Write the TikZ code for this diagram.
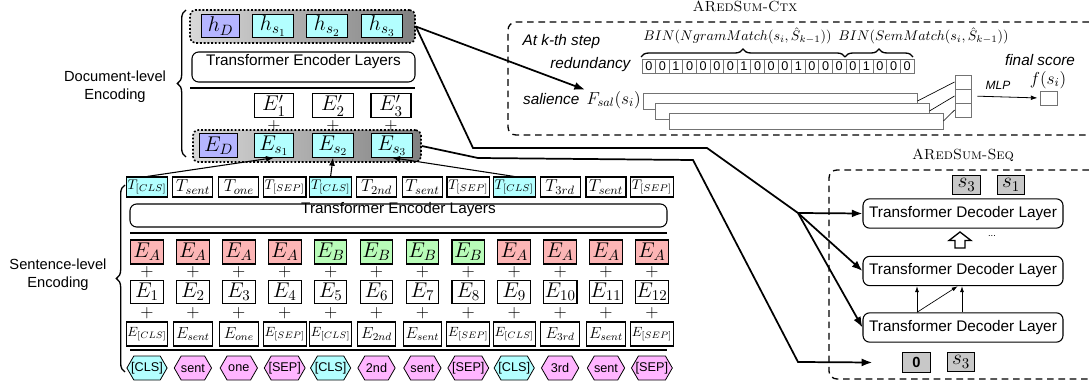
\RequirePackage{fix-cm}
\documentclass[tikz,border=0pt]{standalone}
\usepackage{fontspec}
\setsansfont{Liberation Sans}
\usetikzlibrary{arrows.meta,fit,shapes.symbols,decorations.pathreplacing}

\definecolor{clscyan}{RGB}{179,255,255}
\definecolor{docblue}{RGB}{181,181,255}
\definecolor{segred}{RGB}{252,181,181}
\definecolor{seggreen}{RGB}{184,252,184}
\definecolor{tokpink}{RGB}{255,181,255}
\definecolor{selgray}{RGB}{200,200,200}

\begin{document}
\begin{tikzpicture}[x=0.75pt,y=0.75pt,yscale=-1,xscale=1,
  box/.style={draw, line width=0.8pt, inner sep=1pt},
  dbox/.style={box, minimum width=29pt, minimum height=17.5pt, font=\fontsize{16}{17}\selectfont},
  grp/.style={draw, rounded corners=4pt, line width=1.2pt, dash pattern=on 1.4pt off 1.4pt, left color=black!15, right color=black!50, inner sep=0pt},
  enc/.style={draw, rounded corners=5pt, line width=0.8pt, inner sep=0pt, font=\sffamily\fontsize{11.5}{13}\selectfont},
  tkn/.style={box, minimum width=30pt, minimum height=15pt, font=\fontsize{13}{14}\selectfont},
  tknsm/.style={tkn, font=\fontsize{10.5}{11}\selectfont},
  segbox/.style={box, minimum width=24.5pt, minimum height=18pt, font=\fontsize{16}{17}\selectfont},
  posbox/.style={box, minimum width=24.5pt, minimum height=17pt, font=\fontsize{16}{17}\selectfont},
  embbox/.style={box, minimum width=29pt, minimum height=18pt, font=\fontsize{12}{13}\selectfont},
  embsm/.style={embbox, font=\fontsize{10}{11}\selectfont},
  hex/.style={draw, line width=0.6pt, signal, signal to=west and east, signal pointer angle=120, minimum width=28pt, minimum height=18pt, inner xsep=-2pt, inner ysep=0pt, font=\sffamily\fontsize{9.5}{10}\selectfont},
  plussign/.style={inner sep=0pt, font=\fontsize{13}{13}\selectfont},
  divider/.style={line width=0.9pt},
  levelbrace/.style={decorate, decoration={brace, amplitude=6.5pt}, line width=1pt},
  lbl/.style={align=center, font=\sffamily\fontsize{11}{13.5}\selectfont},
  itlbl/.style={inner sep=1pt, font=\sffamily\itshape\fontsize{11.5}{13}\selectfont},
  bitcell/.style={draw=black!55, line width=0.5pt, minimum width=10.2pt, minimum height=10.5pt, inner sep=0pt, font=\sffamily\fontsize{9.5}{10}\selectfont},
  salbar/.style={draw=black!55, fill=white, line width=0.7pt, inner sep=0pt},
  scorebox/.style={draw=black!55, fill=white, line width=0.7pt, minimum width=12pt, minimum height=10.5pt, inner sep=0pt},
  dashbox/.style={line width=1pt, dash pattern=on 5pt off 3.5pt, rounded corners=6pt},
  decbox/.style={draw, rounded corners=5pt, line width=0.8pt, minimum width=150pt, minimum height=22pt, font=\sffamily\fontsize{11.5}{13}\selectfont},
  selbox/.style={draw, fill=selgray, line width=0.8pt, minimum width=20.5pt, minimum height=14.5pt, inner sep=1pt, font=\fontsize{16}{17}\selectfont},
  conn/.style={line width=1.3pt, -{Latex[length=8pt,width=6pt]}},
  tarrow/.style={line width=0.8pt, -{Latex[length=6pt,width=4.5pt]}},
  thinarrow/.style={line width=0.5pt, -{Latex[length=4.5pt,width=3pt]}}
]
\useasboundingbox (0,0) rectangle (1089,392);

%Shape: Brace (document level)
\draw[levelbrace] (186,157) -- (186,10);
% Text Node
\node[lbl] (dlbl) at (115,87) {Document-level\\Encoding};
%Shape: Brace (sentence level)
\draw[levelbrace] (125,372) -- (125,185);
% Text Node
\node[lbl] (slbl) at (58,275) {Sentence-level\\Encoding};

%Shape: Group of outputs
\node[grp, fit={(190,10) (415,43)}] (hgrp) {};
\node[dbox, fill=docblue] (hD) at (220.5,26) {$h_D$};
\node[dbox, minimum width=30.5pt, fill=clscyan] (hs1) at (273,26) {$h_{s_1}$};
\node[dbox, minimum width=30.5pt, fill=clscyan] (hs2) at (327,26) {$h_{s_2}$};
\node[dbox, minimum width=30.5pt, fill=clscyan] (hs3) at (382,26) {$h_{s_3}$};

%Shape: Document encoder
\node[enc, fit={(192,52) (415,82)}] (denc) {Transformer Encoder Layers};
\draw[divider] (190,88) -- (415,88);

% Text Node
\node[dbox] (ep1) at (274,105.5) {$E'_1$};
\node[dbox, minimum width=31pt] (ep2) at (333,105.5) {$E'_2$};
\node[dbox, minimum width=30pt] (ep3) at (391,105.5) {$E'_3$};
\node[plussign] (pd1) at (274,126) {$+$};
\node[plussign] (pd2) at (333,126) {$+$};
\node[plussign] (pd3) at (391,126) {$+$};

%Shape: Group of inputs
\node[grp, fit={(193,130) (421,162)}] (egrp) {};
\node[dbox, fill=docblue] (eD) at (218.5,145.5) {$E_D$};
\node[dbox, fill=clscyan] (es1) at (274,145.5) {$E_{s_1}$};
\node[dbox, minimum width=31pt, fill=clscyan] (es2) at (333,145.5) {$E_{s_2}$};
\node[dbox, minimum width=31pt, fill=clscyan] (es3) at (392,145.5) {$E_{s_3}$};

%Shape: Token outputs
\node[tknsm, fill=clscyan] (t1) at (147,187) {$T_{[CLS]}$};
\node[tkn] (t2) at (192.9,187) {$T_{sent}$};
\node[tkn] (t3) at (238.8,187) {$T_{one}$};
\node[tknsm] (t4) at (284.7,187) {$T_{[SEP]}$};
\node[tknsm, fill=clscyan] (t5) at (330.6,187) {$T_{[CLS]}$};
\node[tkn] (t6) at (376.5,187) {$T_{2nd}$};
\node[tkn] (t7) at (422.4,187) {$T_{sent}$};
\node[tknsm] (t8) at (468.3,187) {$T_{[SEP]}$};
\node[tknsm, fill=clscyan] (t9) at (514.2,187) {$T_{[CLS]}$};
\node[tkn] (t10) at (560.1,187) {$T_{3rd}$};
\node[tkn] (t11) at (606,187) {$T_{sent}$};
\node[tknsm] (t12) at (651.9,187) {$T_{[SEP]}$};

%Straight Lines
\draw[tarrow] (t1.north) -- (es1.south);
\draw[tarrow] (t5.north) -- (es2.south);
\draw[tarrow] (t9.north) -- (es3.south);

%Shape: Sentence encoder
\node[enc, fit={(130,204) (667,227)}] (senc) {Transformer Encoder Layers};
\draw[divider] (130,233) -- (667,233);

%Shape: Segment embeddings
\node[segbox, fill=segred] (sa1) at (147,252) {$E_A$};
\node[segbox, fill=segred] (sa2) at (192.9,252) {$E_A$};
\node[segbox, fill=segred] (sa3) at (238.8,252) {$E_A$};
\node[segbox, fill=segred] (sa4) at (284.7,252) {$E_A$};
\node[segbox, fill=seggreen] (sa5) at (330.6,252) {$E_B$};
\node[segbox, fill=seggreen] (sa6) at (376.5,252) {$E_B$};
\node[segbox, fill=seggreen] (sa7) at (422.4,252) {$E_B$};
\node[segbox, fill=seggreen] (sa8) at (468.3,252) {$E_B$};
\node[segbox, fill=segred] (sa9) at (514.2,252) {$E_A$};
\node[segbox, fill=segred] (sa10) at (560.1,252) {$E_A$};
\node[segbox, fill=segred] (sa11) at (606,252) {$E_A$};
\node[segbox, fill=segred] (sa12) at (651.9,252) {$E_A$};

% Text Node
\node[plussign] (pa1) at (147,272) {$+$};
\node[plussign] (pa2) at (192.9,272) {$+$};
\node[plussign] (pa3) at (238.8,272) {$+$};
\node[plussign] (pa4) at (284.7,272) {$+$};
\node[plussign] (pa5) at (330.6,272) {$+$};
\node[plussign] (pa6) at (376.5,272) {$+$};
\node[plussign] (pa7) at (422.4,272) {$+$};
\node[plussign] (pa8) at (468.3,272) {$+$};
\node[plussign] (pa9) at (514.2,272) {$+$};
\node[plussign] (pa10) at (560.1,272) {$+$};
\node[plussign] (pa11) at (606,272) {$+$};
\node[plussign] (pa12) at (651.9,272) {$+$};

%Shape: Position embeddings
\node[posbox] (ps1) at (147,292) {$E_1$};
\node[posbox] (ps2) at (192.9,292) {$E_2$};
\node[posbox] (ps3) at (238.8,292) {$E_3$};
\node[posbox] (ps4) at (284.7,292) {$E_4$};
\node[posbox] (ps5) at (330.6,292) {$E_5$};
\node[posbox] (ps6) at (376.5,292) {$E_6$};
\node[posbox] (ps7) at (422.4,292) {$E_7$};
\node[posbox] (ps8) at (468.3,292) {$E_8$};
\node[posbox] (ps9) at (514.2,292) {$E_9$};
\node[posbox] (ps10) at (560.1,292) {$E_{10}$};
\node[posbox] (ps11) at (606,292) {$E_{11}$};
\node[posbox] (ps12) at (651.9,292) {$E_{12}$};

% Text Node
\node[plussign] (pb1) at (147,313) {$+$};
\node[plussign] (pb2) at (192.9,313) {$+$};
\node[plussign] (pb3) at (238.8,313) {$+$};
\node[plussign] (pb4) at (284.7,313) {$+$};
\node[plussign] (pb5) at (330.6,313) {$+$};
\node[plussign] (pb6) at (376.5,313) {$+$};
\node[plussign] (pb7) at (422.4,313) {$+$};
\node[plussign] (pb8) at (468.3,313) {$+$};
\node[plussign] (pb9) at (514.2,313) {$+$};
\node[plussign] (pb10) at (560.1,313) {$+$};
\node[plussign] (pb11) at (606,313) {$+$};
\node[plussign] (pb12) at (651.9,313) {$+$};

%Shape: Token embeddings
\node[embsm] (em1) at (147,334) {$E_{[CLS]}$};
\node[embbox] (em2) at (192.9,334) {$E_{sent}$};
\node[embbox] (em3) at (238.8,334) {$E_{one}$};
\node[embsm] (em4) at (284.7,334) {$E_{[SEP]}$};
\node[embsm] (em5) at (330.6,334) {$E_{[CLS]}$};
\node[embbox] (em6) at (376.5,334) {$E_{2nd}$};
\node[embbox] (em7) at (422.4,334) {$E_{sent}$};
\node[embsm] (em8) at (468.3,334) {$E_{[SEP]}$};
\node[embsm] (em9) at (514.2,334) {$E_{[CLS]}$};
\node[embbox] (em10) at (560.1,334) {$E_{3rd}$};
\node[embbox] (em11) at (606,334) {$E_{sent}$};
\node[embsm] (em12) at (651.9,334) {$E_{[SEP]}$};
\draw[divider] (130,350) -- (667,350);

%Shape: Input tokens
\node[hex, fill=clscyan] (hx1) at (147,368) {[CLS]};
\node[hex, fill=tokpink] (hx2) at (192.9,368) {sent};
\node[hex, fill=tokpink] (hx3) at (238.8,368) {one};
\node[hex, fill=tokpink] (hx4) at (284.7,368) {[SEP]};
\node[hex, fill=clscyan] (hx5) at (330.6,368) {[CLS]};
\node[hex, fill=tokpink] (hx6) at (376.5,368) {2nd};
\node[hex, fill=tokpink] (hx7) at (422.4,368) {sent};
\node[hex, fill=tokpink] (hx8) at (468.3,368) {[SEP]};
\node[hex, fill=clscyan] (hx9) at (514.2,368) {[CLS]};
\node[hex, fill=tokpink] (hx10) at (560.1,368) {3rd};
\node[hex, fill=tokpink] (hx11) at (606,368) {sent};
\node[hex, fill=tokpink] (hx12) at (651.9,368) {[SEP]};

%Shape: ARedSum-Ctx panel
\node[font=\fontsize{11}{12}\selectfont] (ctxtitle) at (745,6) {\textsc{ARedSum-Ctx}};
\draw[dashbox] (1089,22) -- (508,22) -- (508,135) -- (1089,135);
\node[itlbl, anchor=west] (kstep) at (521,42) {At k-th step};
\node[anchor=west, inner sep=0pt, font=\fontsize{10.5}{11}\selectfont] (ngram) at (643,36) {$BIN(NgramMatch(s_i,\hat{S}_{k-1}))$};
\node[anchor=west, inner sep=0pt, font=\fontsize{10.5}{11}\selectfont] (sem) at (838,36) {$BIN(SemMatch(s_i,\hat{S}_{k-1}))$};
\draw[levelbrace, decoration={amplitude=6pt}] (641,57) -- (845,57);
\draw[levelbrace, decoration={amplitude=6pt}] (845,57) -- (913,57);
\node[itlbl, anchor=east] (redund) at (632,65) {redundancy};

% bits
\node[bitcell] (r1) at (648.8,66) {0};
\node[bitcell] (r2) at (662.4,66) {0};
\node[bitcell] (r3) at (676,66) {1};
\node[bitcell] (r4) at (689.6,66) {0};
\node[bitcell] (r5) at (703.2,66) {0};
\node[bitcell] (r6) at (716.8,66) {0};
\node[bitcell] (r7) at (730.4,66) {0};
\node[bitcell] (r8) at (744,66) {1};
\node[bitcell] (r9) at (757.6,66) {0};
\node[bitcell] (r10) at (771.2,66) {0};
\node[bitcell] (r11) at (784.8,66) {0};
\node[bitcell] (r12) at (798.4,66) {1};
\node[bitcell] (r13) at (812,66) {0};
\node[bitcell] (r14) at (825.6,66) {0};
\node[bitcell] (r15) at (839.2,66) {0};
\node[bitcell] (r16) at (852.8,66) {0};
\node[bitcell] (r17) at (866.4,66) {1};
\node[bitcell] (r18) at (880,66) {0};
\node[bitcell] (r19) at (893.6,66) {0};
\node[bitcell] (r20) at (907.2,66) {0};

\node[itlbl, anchor=east] (sal) at (581,99) {salience};
\node[anchor=west, inner sep=1pt, font=\fontsize{13}{14}\selectfont] (fsal) at (585,100) {$F_{sal}(s_i)$};
\node[salbar, fit={(643,93) (917,109)}] (bar1) {};
\node[salbar, fit={(655,103) (929,119)}] (bar2) {};
\node[salbar, fit={(669,113) (943,129)}] (bar3) {};
\node[scorebox] (sq1) at (963,82) {};
\node[scorebox] (sq2) at (963,96) {};
\node[scorebox] (sq3) at (963,110) {};
\draw[line width=0.5pt] (bar1.east) -- (sq1.west);
\draw[line width=0.5pt] (bar2.east) -- (sq2.west);
\draw[line width=0.5pt] (bar3.east) -- (sq3.west);
\node[scorebox, minimum width=12.75pt] (fin) at (1048.5,98) {};
\draw[line width=0.6pt, -{Latex[length=5pt,width=3.5pt]}, shorten <=4.5pt, shorten >=1.5pt] (sq2.east) -- (fin.west);
\node[itlbl, font=\sffamily\itshape\fontsize{9}{10}\selectfont] (mlp) at (998,85) {MLP};
\node[font=\fontsize{13}{14}\selectfont] (fsi) at (1048,80) {$f(s_i)$};
\node[itlbl] (final) at (1040,60) {final score};

%Shape: ARedSum-Seq panel
\node[font=\fontsize{11}{12}\selectfont] (seqtitle) at (963,155) {\textsc{ARedSum-Seq}};
\draw[dashbox] (1089,170) -- (829,170) -- (829,379) -- (1089,379);
\node[selbox] (top3) at (966.5,185) {$s_3$};
\node[selbox] (top1) at (1011,185) {$s_1$};
\node[decbox] (dec1) at (963,213.5) {Transformer Decoder Layer};
\node[decbox] (dec2) at (963,271) {Transformer Decoder Layer};
\node[decbox] (dec3) at (963,327.5) {Transformer Decoder Layer};
\node[selbox, font=\sffamily\bfseries\fontsize{11}{12}\selectfont] (zero) at (916.5,362.5) {0};
\node[selbox] (bot3) at (961,362) {$s_3$};
\draw[line width=1pt, fill=white] (960,232) -- (971,240.5) -- (965,240.5) -- (965,248) -- (955,248) -- (955,240.5) -- (949,240.5) -- cycle;
\node[font=\sffamily\fontsize{7}{8}\selectfont] (dots) at (992,236) {...};
\draw[thinarrow] ([xshift=-34.5pt]dec3.north) -- ([xshift=-34.5pt]dec2.south);
\draw[thinarrow] ([xshift=-34.5pt]dec3.north) -- ([xshift=-4pt]dec2.south);
\draw[thinarrow] ([xshift=-0.75pt]dec3.north) -- ([xshift=-0.75pt]dec2.south);

%Straight Lines: connectors between the parts
\coordinate (mem) at (798,213);
\draw[conn] (hgrp.east) -- (fsal.north west);
\draw[line width=1.3pt] (hgrp.east) -- (473,148) -- (707,148) -- (mem);
\draw[conn] (mem) -- (dec1.west);
\draw[conn] (mem) -- (dec2.west);
\draw[conn] (mem) -- (dec3.west);
\draw[conn] (egrp.east) -- (478,158) -- (693,160) -- (798,362) -- ([xshift=-22.5pt]zero.west);

\end{tikzpicture}
\end{document}
